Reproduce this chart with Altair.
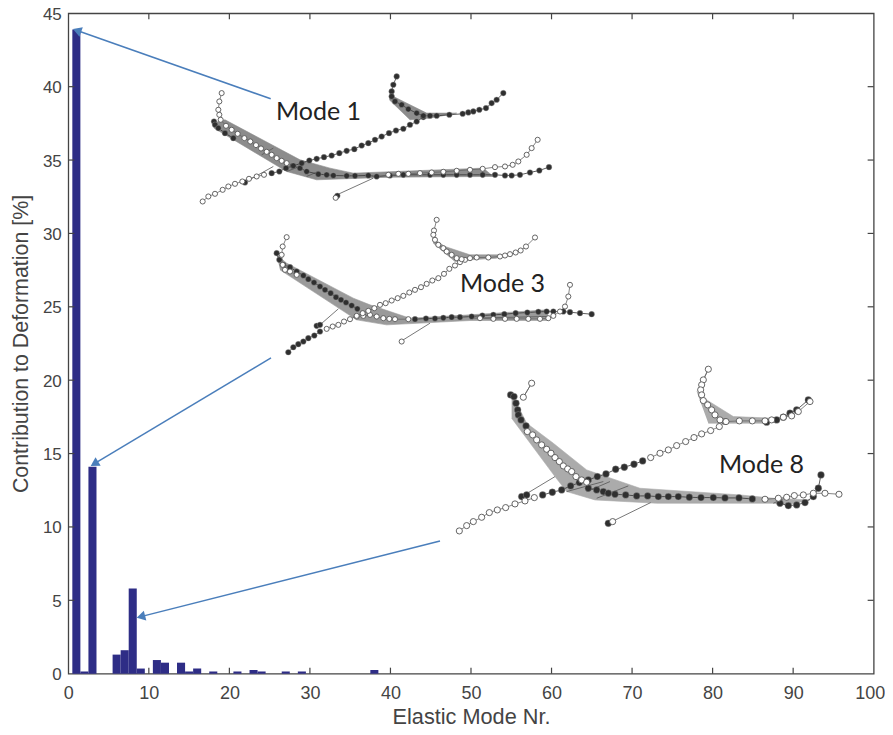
import math
import altair as alt
import pandas as pd

# ---------- bar data ----------
modes = [1, 2, 3, 6, 7, 8, 9, 11, 12, 14, 15, 16, 18, 21, 23, 24, 27, 29, 38]
contribution = [43.9, 0.15, 14.1, 1.3, 1.6, 5.8, 0.35, 0.93, 0.75, 0.75, 0.15, 0.35, 0.15, 0.15, 0.25, 0.15, 0.15, 0.15, 0.25]
x_ticks = [0, 10, 20, 30, 40, 50, 60, 70, 80, 90, 100]
y_ticks = [0, 5, 10, 15, 20, 25, 30, 35, 40, 45]

# picture calibration of the axes
X0, XK = 68.3, 8.054
Y0, YK = 673.7, 14.67
def dx(px): return (px - X0) / XK
def dy(py): return (Y0 - py) / YK

# ---------- inset sketches, in each inset's local coordinates ----------
m1_origin = (190, 60)
m1_polys = [
    [(70,190),(105,180),(330,300),(420,325),(490,340),(620,335),(880,325),(910,350),(600,352),(380,360),(290,335),(72,205)],
    [(600,105),(640,125),(710,160),(800,160),(720,175),(660,180),(598,120)],
]
m1_thin = [
    [(430,410),(550,355)], [(160,370),(250,320)], [(290,335),(330,320)], [(215,285),(250,265)],
    [(350,350),(385,335)],
]
m1_white = [
    [(95,100),(88,125),(85,150),(88,165),(92,180),(108,198),(125,210),(143,222),(163,235),(181,245),(198,256),(213,266),(230,276),(245,285),(260,295),(275,303),(290,310)],
    [(595,345),(625,342),(655,342),(690,340),(725,338),(760,336),(800,333),(840,330),(878,327),(915,322),(945,320),(968,315),(985,305),(1010,285),(1025,265),(1043,240)],
    [(38,425),(55,410),(75,402),(98,390),(115,380),(135,372),(157,365),(177,357),(200,350),(222,345)],
    [(437,414)],
]
m1_black = [
    [(72,185),(75,195),(85,205),(105,220),(130,235)],
    [(308,318),(330,325),(350,335),(385,343),(410,345),(430,347),(470,348),(495,348),(535,347),(560,350),(600,347),(640,345),(720,345),(760,345),(800,345),(840,345),(878,345),(915,345),(945,347),(965,347),(990,345),(1020,338),(1048,332),(1077,322)],
    [(245,340),(268,335),(288,325),(310,318),(335,310),(358,302),(380,297),(402,292),(425,287),(448,280),(470,273),(493,268),(515,257),(535,250),(555,240),(575,230),(597,220),(618,212),(640,207),(660,195),(680,185),(700,172)],
    [(620,50),(610,75),(605,95),(605,110),(615,125),(635,135),(655,148),(680,160),(700,168),(720,168),(740,168),(778,165),(818,162),(835,158),(850,155),(868,150),(888,145),(905,130),(920,120),(940,100)],
    [(165,368)], [(442,408)],
]

m3_origin = (270, 210)
m3_polys = [
    [(20,135),(50,160),(250,265),(300,285),(420,325),(600,315),(830,300),(835,332),(600,332),(350,345),(260,330),(30,180)],
    [(487,85),(525,110),(600,135),(690,135),(680,145),(600,150),(555,155),(490,100)],
]
m3_thin = [
    [(150,345),(205,297)], [(395,393),(480,340)], [(600,325),(830,320)],
]
m3_white = [
    [(50,82),(38,110),(35,135),(38,165),(45,180),(60,185),(80,195)],
    [(260,320),(280,318),(300,315),(320,320),(340,325),(358,327),(375,328),(415,328)],
    [(630,325),(670,327),(705,327),(740,327),(775,327),(810,327),(835,325),(850,318),(870,305),(885,290),(895,260),(900,225)],
    [(170,357),(188,350),(205,345),(222,335),(240,328),(260,318),(278,310),(295,303),(313,295),(330,285),(347,280),(365,272),(383,265),(400,258),(418,248),(435,240),(453,232),(470,222),(487,212),(505,205),(522,192),(538,177),(555,167),(570,157),(585,150)],
    [(500,30),(492,62),(490,75),(495,90),(505,105),(520,115),(530,125),(545,135),(560,145),(575,148),(600,145),(620,143),(655,143),(690,140),(705,137),(720,133),(737,128),(752,122),(768,110),(795,83)],
    [(395,395)],
]
m3_black = [
    [(20,130),(28,150),(40,165),(60,172),(80,185),(100,197),(115,208),(132,218),(150,230),(165,240),(182,250),(198,262),(213,270),(228,278),(245,287),(262,297)],
    [(435,328),(468,326),(495,326),(520,324),(545,322),(570,322),(605,320),(637,317),(670,315),(703,313),(737,310),(772,308),(805,306),(830,305),(850,305),(880,305),(900,307),(930,310),(965,313)],
    [(55,427),(70,412),(85,403),(100,395),(115,385),(133,377),(150,365)],
    [(140,348),(150,345)],
]

m8_origin = (440, 360)
m8_polys = [
    [(215,110),(240,150),(260,190),(340,250),(440,330),(600,385),(900,405),(1000,415),(1110,420),(1040,435),(1000,430),(650,430),(465,420),(380,395),(345,350),(215,175)],
    [(770,95),(800,120),(880,170),(1000,175),(975,190),(900,190),(835,190),(805,190)],
]
m8_thin = [
    [(262,400),(345,350)], [(520,483),(632,428)], [(380,395),(490,365)], [(440,395),(510,365)],
    [(470,415),(565,378)], [(1000,430),(1040,412)], [(250,112),(275,70)], [(790,60),(805,28)],
]
m8_black = [
    [(212,105),(222,110),(228,130),(233,150),(235,165),(243,180),(258,198)],
    [(445,385),(470,390),(490,395),(505,400),(525,403),(557,405),(590,408),(623,408),(655,410),(685,410),(715,410),(748,412),(783,413),(820,413),(855,414),(897,414),(937,417)],
    [(1020,430),(1045,437),(1070,435),(1095,428),(1120,410),(1135,385),(1143,345)],
    [(308,405),(337,397),(365,390),(392,378),(418,368),(445,360),(472,350),(498,342),(527,328),(553,322),(582,313),(608,303)],
    [(980,187),(1010,180),(1030,172),(1050,160),(1070,150),(1105,120)],
    [(245,410),(260,405)], [(505,490)],
]
m8_white = [
    [(275,70),(250,112)],
    [(262,215),(278,225),(290,240),(305,255),(320,268),(333,280),(345,293),(358,305),(370,318),(383,327),(395,335),(408,350),(425,360),(440,367)],
    [(975,418),(1015,415),(1040,412),(1063,407),(1090,405),(1120,400),(1155,400),(1197,403)],
    [(58,513),(80,497),(100,485),(125,472),(148,458),(172,450),(197,443),(225,432),(255,423),(283,413)],
    [(632,293),(660,280),(685,270),(710,257),(737,245),(762,233),(785,222),(812,212),(838,200),(855,185)],
    [(805,28),(790,60),(785,75),(782,90),(785,105),(790,122),(803,135),(815,150),(825,165),(840,180),(858,185),(898,183),(937,183),(975,183),(995,180),(1030,172),(1055,168),(1075,155),(1110,125)],
    [(518,485)],
]

# ---------- annotations ----------
labels = ["Mode 1", "Mode 3", "Mode 8"]
label_x = [dx(276), dx(460), dx(719)]
label_y = [dy(120), dy(292), dy(473)]
arrow_tail = [(270.7, 99), (271, 358), (440, 541)]
arrow_tip = [(73, 29.3), (90.7, 466), (136.7, 617.7)]
dot_area_black = [32, 32, 46]
dot_area_white = [26, 26, 38]
wing_fill = ["#8c8c8c", "#9a9a9a", "#ababab"]

# ---------- tables ----------
def table(insets, kind, areas=None):
    rows = []
    for m, (origin, groups) in enumerate(insets):
        for g, pts in enumerate(groups):
            for i, (zx, zy) in enumerate(pts):
                row = dict(id=f"{kind}{m}-{g}", i=i, m=m,
                           x=dx(origin[0] + zx / 3), y=dy(origin[1] + zy / 3))
                if areas:
                    row["s"] = areas[m]
                rows.append(row)
    return pd.DataFrame(rows)

O = [m1_origin, m3_origin, m8_origin]
polys = table(list(zip(O, [m1_polys, m3_polys, m8_polys])), "p")
thin = table(list(zip(O, [m1_thin, m3_thin, m8_thin])), "t")
black = table(list(zip(O, [m1_black, m3_black, m8_black])), "b", dot_area_black)
white = table(list(zip(O, [m1_white, m3_white, m8_white])), "w", dot_area_white)

bars = pd.DataFrame({"mode": modes, "y": contribution})
bars["x"] = bars["mode"] - 0.5
bars["x1"] = bars["mode"] + 0.5
bars["zero"] = 0

FRAME = "#444444"
TEXT = "#444444"
xs = alt.Scale(domain=[0, 100], nice=False, zero=False)
ys = alt.Scale(domain=[0, 45], nice=False, zero=False)
X = alt.X("x:Q", scale=xs, axis=alt.Axis(
    values=x_ticks, title="Elastic Mode Nr.", grid=False, domain=False, ticks=False,
    labelPadding=11, titlePadding=4, labelFontSize=18, titleFontSize=21.7, labelColor=TEXT,
    titleColor=TEXT, labelFont="Liberation Sans", titleFont="Liberation Sans",
    labelOffset={"condition": {"test": "datum.value == 100", "value": -4}, "value": 0},
    titleFontWeight="normal", labelFlush=False, labelOverlap=False))
Y = alt.Y("y:Q", scale=ys, axis=alt.Axis(
    values=y_ticks, title="Contribution to Deformation [%]", grid=False, domain=False, ticks=False,
    labelPadding=7, titlePadding=11, labelFontSize=17, titleFontSize=21.4, labelColor=TEXT,
    titleColor=TEXT, labelFont="Liberation Sans", titleFont="Liberation Sans", labelOffset=1,
    titleFontWeight="normal", labelFlush=False, labelOverlap=False))

bar_layer = alt.Chart(bars).mark_rect(color="#2e2d86").encode(x=X, x2="x1", y=Y, y2="zero")

poly_layers = [
    alt.Chart(polys[polys.m == k]).mark_line(fill=wing_fill[k], stroke=wing_fill[k], strokeWidth=0.6).encode(
        x=X, y=Y, detail="id:N", order="i:Q")
    for k in range(3)
]
thin_layer = alt.Chart(thin).mark_line(stroke="#555555", strokeWidth=0.8).encode(
    x=X, y=Y, detail="id:N", order="i:Q")
black_line = alt.Chart(black).mark_line(stroke="#333333", strokeWidth=0.8).encode(
    x=X, y=Y, detail="id:N", order="i:Q")
white_line = alt.Chart(white).mark_line(stroke="#666666", strokeWidth=0.8).encode(
    x=X, y=Y, detail="id:N", order="i:Q")
black_pts = alt.Chart(black).mark_point(filled=True, fill="#2f2f2f", stroke="#999999", strokeWidth=0.4, opacity=1).encode(
    x=X, y=Y, size=alt.Size("s:Q", scale=None))
white_pts = alt.Chart(white).mark_point(filled=True, fill="#ffffff", stroke="#555555", strokeWidth=0.9, opacity=1).encode(
    x=X, y=Y, size=alt.Size("s:Q", scale=None))

arrows = []
heads = []
for k in range(3):
    (tx, ty), (hx, hy) = arrow_tail[k], arrow_tip[k]
    L = math.hypot(hx - tx, hy - ty)
    ux, uy = (hx - tx) / L, (hy - ty) / L
    cx, cy = hx - ux * 4.3, hy - uy * 4.3
    arrows.append(dict(x=dx(tx), y=dy(ty), x2=dx(cx), y2=dy(cy)))
    heads.append(dict(x=dx(cx), y=dy(cy), a=math.degrees(math.atan2(ux, -uy)) % 360))
arrow_rule = alt.Chart(pd.DataFrame(arrows)).mark_rule(color="#4a7ebb", strokeWidth=1.5).encode(
    x=X, y=Y, x2="x2:Q", y2="y2:Q")
arrow_head = alt.Chart(pd.DataFrame(heads)).mark_point(
    shape="triangle-up", filled=True, fill="#4a7ebb", size=100, opacity=1, strokeWidth=0).encode(
    x=X, y=Y, angle=alt.Angle("a:Q", scale=None))

text_layer = alt.Chart(pd.DataFrame({"t": labels, "x": label_x, "y": label_y})).mark_text(
    align="left", baseline="alphabetic", font="Lato", fontSize=25, color="#222222").encode(
    x=X, y=Y, text="t:N")

xt = pd.DataFrame([dict(x=v, y=a, y2=b) for v in x_ticks[1:-1] for a, b in ((0, 0.41), (45, 44.59))])
yt = pd.DataFrame([dict(y=v, x=a, x2=b) for v in y_ticks[1:-1] for a, b in ((0, 0.75), (100, 99.25))])
xt_layer = alt.Chart(xt).mark_rule(color=FRAME, strokeWidth=1.2).encode(x=X, y=Y, y2="y2:Q")
yt_layer = alt.Chart(yt).mark_rule(color=FRAME, strokeWidth=1.2).encode(x=X, x2="x2:Q", y=Y)

chart = alt.layer(
    *poly_layers, bar_layer, thin_layer, black_line, white_line, black_pts, white_pts,
    xt_layer, yt_layer, arrow_rule, arrow_head, text_layer,
).properties(
    width=805.4, height=660.4,
    autosize=alt.AutoSizeParams(type="none"),
    padding={"left": 60.3, "top": 5.3, "right": 11, "bottom": 53},
    background="white",
).configure_view(stroke=FRAME, strokeWidth=1.3)

chart.save("out.html", embed_options={"renderer": "svg", "actions": False})
